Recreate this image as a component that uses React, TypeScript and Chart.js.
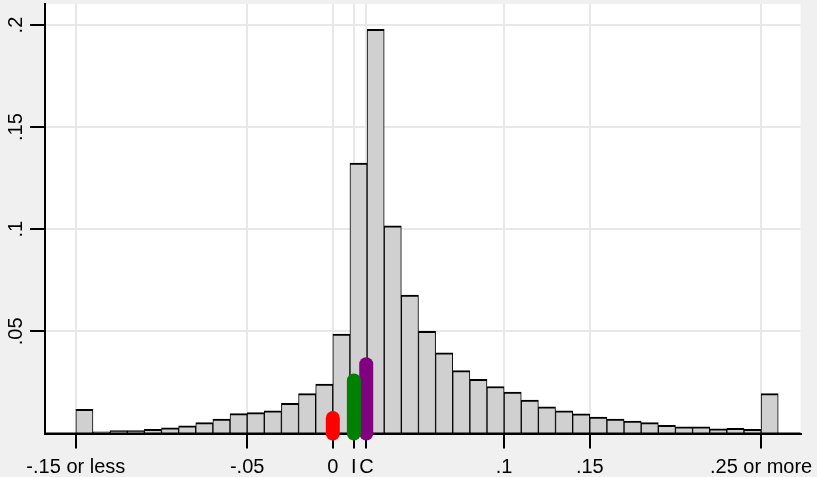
import React, { useEffect, useRef } from 'react';
import { Chart, registerables } from 'chart.js';

Chart.register(...registerables);

// Histogram bins (left edge of each 0.01-wide bin); first and last are open-ended
const binStarts = [
  -0.15, -0.14, -0.13, -0.12, -0.11, -0.10, -0.09, -0.08, -0.07, -0.06,
  -0.05, -0.04, -0.03, -0.02, -0.01, 0.00, 0.01, 0.02, 0.03, 0.04,
  0.05, 0.06, 0.07, 0.08, 0.09, 0.10, 0.11, 0.12, 0.13, 0.14,
  0.15, 0.16, 0.17, 0.18, 0.19, 0.20, 0.21, 0.22, 0.23, 0.24,
  0.25,
];
const binWidth = 0.01;
const binFractions = [
  0.0118, 0.0008, 0.0014, 0.0014, 0.0020, 0.0028, 0.0037, 0.0053, 0.0071, 0.0097,
  0.0102, 0.0111, 0.0148, 0.0195, 0.0242, 0.0487, 0.1324, 0.1979, 0.1017, 0.0678,
  0.0500, 0.0395, 0.0308, 0.0265, 0.0230, 0.0203, 0.0164, 0.0131, 0.0111, 0.0096,
  0.0080, 0.0071, 0.0061, 0.0053, 0.0040, 0.0033, 0.0033, 0.0023, 0.0025, 0.0020,
  0.0195,
];

// Axis ticks
const xTickValues = [-0.15, -0.05, 0, 0.0123, 0.0196, 0.1, 0.15, 0.25];
const xTickLabels = ['-.15 or less', '-.05', '0', 'I', 'C', '.1', '.15', '.25 or more'];
const yTickValues = [0.05, 0.1, 0.15, 0.2];
const yTickLabels = ['.05', '.1', '.15', '.2'];

// Reference markers (spikes)
const markerNames = ['0', 'I', 'C'];
const markerX = [0, 0.0123, 0.0195];
const markerHeights = [0.0076, 0.026, 0.0339];
const markerColors = ['#ff0000', '#008000', '#800080'];

const X_MIN = -0.168;
const X_MAX = 0.273;
const Y_MIN = 0;
const Y_MAX = 0.2103;

const FONT = '"Liberation Sans", Arial, Helvetica, sans-serif';

export default function App() {
  const canvasRef = useRef<HTMLCanvasElement | null>(null);

  useEffect(() => {
    const canvas = canvasRef.current;
    if (!canvas) return;

    const barData = binStarts.map((s, i) => ({ x: s + binWidth / 2, y: binFractions[i] }));

    const markerDatasets = markerX.map((mx, i) => ({
      type: 'line' as const,
      label: markerNames[i],
      data: [
        { x: mx, y: 0 },
        { x: mx, y: markerHeights[i] },
      ],
      borderColor: markerColors[i],
      backgroundColor: markerColors[i],
      borderWidth: 14,
      borderCapStyle: 'round' as const,
      pointRadius: 0,
      pointHoverRadius: 0,
      tension: 0,
      clip: false as any,
      order: 0,
    }));

    const bgPlugin = {
      id: 'bgPlugin',
      beforeDraw(chart: any) {
        const { ctx, chartArea } = chart;
        ctx.save();
        ctx.fillStyle = '#f0f0f0';
        ctx.fillRect(0, 0, chart.width, chart.height);
        ctx.fillStyle = '#ffffff';
        ctx.fillRect(chartArea.left, chartArea.top, chartArea.right - chartArea.left, chartArea.bottom - chartArea.top);
        ctx.restore();
      },
      afterDatasetDraw(chart: any, args: any) {
        if (args.meta && args.meta.type === 'bar') {
          const { ctx, chartArea } = chart;
          const y0 = chart.scales.y.getPixelForValue(0);
          ctx.save();
          ctx.strokeStyle = '#000000';
          ctx.lineWidth = 2;
          ctx.beginPath();
          ctx.moveTo(chartArea.left - 1, y0);
          ctx.lineTo(chartArea.right, y0);
          ctx.stroke();
          ctx.restore();
        }
      },
      afterDraw(chart: any) {
        const { ctx } = chart;
        const yScale = chart.scales.y;
        ctx.save();
        ctx.fillStyle = '#000000';
        ctx.font = `20px ${FONT}`;
        ctx.textAlign = 'center';
        ctx.textBaseline = 'alphabetic';
        yTickValues.forEach((v, i) => {
          const py = yScale.getPixelForValue(v);
          ctx.save();
          ctx.translate(21.5, py);
          ctx.rotate(-Math.PI / 2);
          ctx.fillText(yTickLabels[i], 0, 0);
          ctx.restore();
        });
        ctx.restore();
      },
    };

    const chart = new Chart(canvas, {
      type: 'bar',
      data: {
        datasets: [
          {
            type: 'bar' as const,
            label: 'Fraction',
            data: barData,
            backgroundColor: '#d0d0d0',
            borderColor: '#000000',
            borderWidth: { top: 2, left: 1, right: 1, bottom: 0 } as any,
            borderSkipped: false as any,
            barThickness: 'flex',
            barPercentage: 1,
            categoryPercentage: 1,
            order: 1,
          } as any,
          ...(markerDatasets as any[]),
        ],
      },
      options: {
        responsive: false,
        animation: false,
        events: [],
        layout: { padding: { left: 0, right: 16.5, top: 4, bottom: 0 } },
        plugins: {
          legend: { display: false },
          tooltip: { enabled: false },
          title: { display: false },
        },
        scales: {
          x: {
            type: 'linear',
            min: X_MIN,
            max: X_MAX,
            offset: false,
            grid: {
              offset: false,
              color: '#e8e8e8',
              lineWidth: 2,
              tickColor: '#000000',
              tickWidth: 2,
              tickLength: 15,
              drawTicks: true,
            },
            border: { display: true, color: '#000000', width: 2 },
            ticks: {
              autoSkip: false,
              maxRotation: 0,
              minRotation: 0,
              padding: 7,
              color: '#000000',
              font: { family: FONT, size: 20 },
              callback: (_v: any, idx: number) => xTickLabels[idx],
            },
            afterBuildTicks: (scale: any) => {
              scale.ticks = xTickValues.map((v) => ({ value: v }));
            },
            afterFit: (scale: any) => {
              scale.height = 43.5;
              scale.paddingLeft = 0;
              scale.paddingRight = 0;
            },
          } as any,
          y: {
            type: 'linear',
            min: Y_MIN,
            max: Y_MAX,
            grid: {
              color: '#e8e8e8',
              lineWidth: 2,
              tickColor: '#000000',
              tickWidth: 2,
              tickLength: 15,
              drawTicks: true,
            },
            border: { display: true, color: '#000000', width: 2 },
            ticks: {
              padding: 0,
              callback: () => '',
            },
            afterBuildTicks: (scale: any) => {
              scale.ticks = yTickValues.map((v) => ({ value: v }));
            },
            afterFit: (scale: any) => {
              scale.width = 45;
              scale.paddingTop = 0;
              scale.paddingBottom = 0;
            },
          } as any,
        },
      },
      plugins: [bgPlugin],
    } as any);

    return () => {
      chart.destroy();
    };
  }, []);

  return (
    <div style={{ position: 'fixed', left: 0, top: 0, width: 817, height: 477, background: '#f0f0f0' }}>
      <canvas ref={canvasRef} width={817} height={477} style={{ display: 'block', width: 817, height: 477 }} />
    </div>
  );
}
